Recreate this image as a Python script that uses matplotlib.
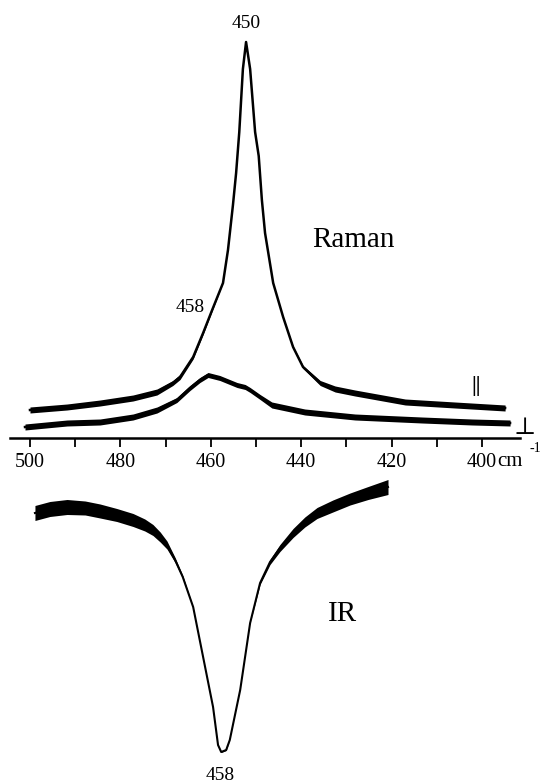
import matplotlib
matplotlib.use('Agg')
import matplotlib.pyplot as plt
import numpy as np

plt.rcParams['font.family'] = ['Liberation Serif', 'DejaVu Serif']

# Raman, parallel polarisation (arbitrary intensity)
par_wn = [500.0, 491.8, 484.5, 477.2, 471.9, 468.4, 466.8, 463.9, 461.7, 459.7,
          457.3, 456.2, 455.1, 454.4, 453.7, 452.9, 452.2, 451.3, 450.2, 449.4,
          448.7, 448.0, 446.2, 444.0, 441.8, 439.6, 435.8, 432.5, 428.1, 417.0,
          406.0, 394.9]
par_int = [28, 31, 35, 40, 46, 55, 61, 81, 105, 128,
           155, 188, 233, 265, 306, 369, 396, 369, 306, 282,
           238, 205, 155, 121, 91, 71, 55, 49, 45, 36,
           33, 30]
par_noise = [6, 6, 6, 6, 6, 5, 5, 4, 3, 2,
             0, 0, 0, 0, 0, 0, 0, 0, 0, 0,
             0, 0, 0, 1, 2, 3, 5, 6, 6, 6,
             6, 6]

# Raman, perpendicular polarisation
perp_wn = [501.1, 491.8, 484.5, 477.2, 471.9, 467.5, 464.6, 462.4, 460.6, 458.0,
           454.2, 452.4, 451.3, 449.1, 446.5, 439.2, 428.1, 413.3, 402.2, 393.8]
perp_int = [11, 15, 16, 21, 28, 38, 50, 58, 63, 60,
            53, 51, 48, 41, 33, 26, 21, 18, 16, 15]
perp_noise = [6, 6, 6, 6, 6, 5, 5, 5, 5, 5,
              5, 5, 5, 5, 6, 6, 6, 6, 6, 6]

# IR transmission (arbitrary units)
ir_wn = [498.9, 495.6, 491.8, 487.8, 484.5, 480.8, 477.2, 474.6, 472.8, 471.2,
         469.7, 467.9, 466.2, 463.9, 461.7, 459.5, 458.4, 457.7, 456.6, 455.8,
         453.5, 451.3, 449.1, 446.9, 444.7, 441.8, 439.2, 436.5, 433.0, 429.2,
         425.2, 420.8]
ir_T = [271, 275, 277, 276, 273, 269, 264, 259, 254, 247,
        239, 224, 207, 177, 127, 77, 39, 32, 34, 44,
        94, 161, 201, 222, 236, 251, 262, 271, 278, 285,
        291, 297]
ir_noise = [15, 15, 15, 14, 14, 13, 13, 12, 11, 10,
            8, 5, 3, 0, 0, 0, 0, 1, 1, 0,
            0, 0, 3, 5, 7, 9, 10, 11, 12, 12,
            13, 15]

major_ticks = [500, 480, 460, 440, 420, 400]
minor_ticks = [490, 470, 450, 430, 410]

fig = plt.figure(figsize=(5.44, 7.84), dpi=100)
ax1 = fig.add_axes([10/544, 1 - 438/784, 510/544, 438/784])
ax2 = fig.add_axes([10/544, 0, 510/544, 344/784])

xlim = (504.42, 391.6)

# Raman
for wn, y, n in [(par_wn, par_int, par_noise), (perp_wn, perp_int, perp_noise)]:
    y = np.array(y, float)
    n = np.array(n, float)
    ax1.plot(wn, y, color='black', lw=1.8, solid_joinstyle='round')
    ax1.fill_between(wn, y - n / 2, y + n / 2, color='black', lw=0)

ax1.set_xlim(*xlim)
ax1.set_ylim(0, 438)
for s in ['top', 'left', 'right']:
    ax1.spines[s].set_visible(False)
ax1.spines['bottom'].set_linewidth(1.8)
ax1.set_yticks([])
ax1.set_xticks(major_ticks)
ax1.set_xticklabels([str(t) for t in major_ticks])
ax1.set_xticks(minor_ticks, minor=True)
ax1.tick_params(axis='x', which='both', direction='out', length=6.5, width=1.3,
                labelsize=14.5, pad=4)
ax1.patch.set_alpha(0)

ax1.text(452.2, 414, '450', ha='center', va='center', fontsize=14)
ax1.text(461.3, 131, '458', ha='right', va='center', fontsize=14)
ax1.text(437.6, 198, 'Raman', ha='left', va='center', fontsize=21)
ax1.text(401.3, 52, '||', ha='center', va='center', fontsize=15, fontweight='bold')
ax1.text(390.5, 10, '\u22a5', ha='center', va='center', fontsize=17, clip_on=False)
ax1.text(396.6, -23, 'cm', ha='left', va='center', fontsize=15, clip_on=False)
ax1.text(389.6, -11, '-1', ha='left', va='center', fontsize=10, clip_on=False)

# IR
ir_T_a = np.array(ir_T, float)
ir_n = np.array(ir_noise, float)
ax2.plot(ir_wn, ir_T_a, color='black', lw=1.5, solid_joinstyle='round')
ax2.fill_between(ir_wn, ir_T_a - ir_n / 2, ir_T_a + ir_n / 2, color='black', lw=0)
ax2.set_xlim(*xlim)
ax2.set_ylim(0, 344)
ax2.axis('off')
ax2.text(434.1, 170, 'IR', ha='left', va='center', fontsize=21)
ax2.text(458.0, 8, '458', ha='center', va='center', fontsize=14)

fig.savefig('out.png', dpi=100)
